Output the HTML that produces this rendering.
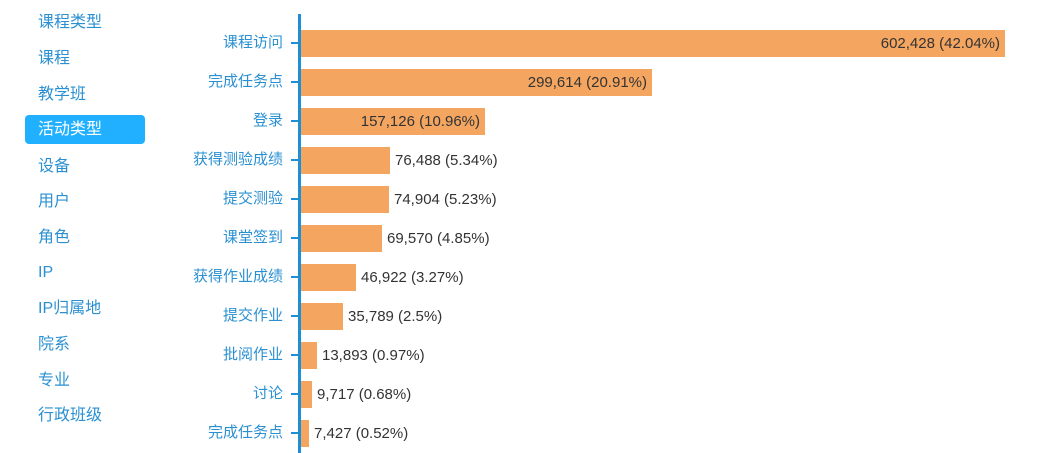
<!DOCTYPE html>
<html><head><meta charset="utf-8"><style>
body{margin:0;width:1052px;height:453px;background:#fff;overflow:hidden;position:relative;font-family:"Liberation Sans","Noto Sans CJK SC",sans-serif}
.m{position:absolute;left:38px;font-size:16px;color:#2a90d2;line-height:20px}
.sel{position:absolute;left:25px;top:115px;width:120px;height:29px;background:#21b0ff;border-radius:4px}
.l{position:absolute;right:769px;font-size:15px;color:#2a90d2;line-height:16px;white-space:nowrap}
.t{position:absolute;left:291px;width:8px;height:2px;background:#1e8fd5}
.b{position:absolute;left:301px;height:27px;background:#f4a661}
.v{position:absolute;font-size:15px;color:#333;line-height:16px;white-space:nowrap}
</style></head><body>
<div class="sel"></div>
<div class="m" style="top:13px">课程类型</div>
<div class="m" style="top:49px">课程</div>
<div class="m" style="top:85px">教学班</div>
<div class="m" style="top:120px;color:#fff">活动类型</div>
<div class="m" style="top:157px">设备</div>
<div class="m" style="top:192px">用户</div>
<div class="m" style="top:228px">角色</div>
<div class="m" style="top:263px">IP</div>
<div class="m" style="top:299px">IP归属地</div>
<div class="m" style="top:335px">院系</div>
<div class="m" style="top:371px">专业</div>
<div class="m" style="top:406px">行政班级</div>
<div style="position:absolute;left:298px;top:14px;width:3px;height:439px;background:#1e8fd5"></div>
<div id="c"></div>
<script>
var d=[["课程访问",1005,"602,428 (42.04%)",1],["完成任务点",652,"299,614 (20.91%)",1],["登录",485,"157,126 (10.96%)",1],["获得测验成绩",390,"76,488 (5.34%)",0],["提交测验",389,"74,904 (5.23%)",0],["课堂签到",382,"69,570 (4.85%)",0],["获得作业成绩",356,"46,922 (3.27%)",0],["提交作业",343,"35,789 (2.5%)",0],["批阅作业",317,"13,893 (0.97%)",0],["讨论",312,"9,717 (0.68%)",0],["完成任务点",309,"7,427 (0.52%)",0]];
var h="";d.forEach(function(r,i){var c=43+i*39;
h+='<div class="l" style="top:'+(c-8)+'px">'+r[0]+'</div><div class="t" style="top:'+(c-1)+'px"></div><div class="b" style="top:'+(c-13)+'px;width:'+(r[1]-301)+'px"></div>';
if(r[3])h+='<div class="v" style="right:'+(1052-r[1]+5)+'px;top:'+(c-7)+'px">'+r[2]+'</div>';
else h+='<div class="v" style="left:'+(r[1]+5)+'px;top:'+(c-7)+'px">'+r[2]+'</div>';});
document.getElementById("c").innerHTML=h;
</script>
</body></html>
